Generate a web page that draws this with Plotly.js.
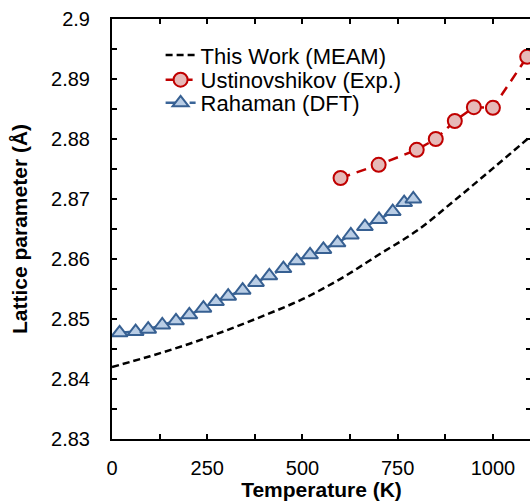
<!DOCTYPE html>
<html>
<head>
<meta charset="utf-8">
<script src="https://cdn.plot.ly/plotly-3.0.1.min.js"></script>
<style>
  html, body { margin: 0; padding: 0; overflow: hidden; background: #fff; }
  #chart { width: 532px; height: 501px; }
</style>
</head>
<body>
<div id="chart"></div>
<script>
// This Work (MEAM)
const meamT = [0, 100, 200, 300, 400, 500, 600, 700, 800, 900, 1000, 1100];
const meamA = [2.8420, 2.8438, 2.8458, 2.8481, 2.8506, 2.8533, 2.8567, 2.8607, 2.8647, 2.8698, 2.8751, 2.8805];

// Ustinovshikov (Exp.)
const expT = [600, 700, 800, 850, 900, 950, 1000, 1090];
const expA = [2.8735, 2.8757, 2.8782, 2.8800, 2.8830, 2.8853, 2.8852, 2.8937];

// Rahaman (DFT)
const dftT = [20, 62, 95, 132, 168, 203, 240, 273, 305, 343, 378, 413, 450, 485, 520, 555, 592, 627, 664, 701, 737, 767, 791];
const dftA = [2.8477, 2.8479, 2.8483, 2.8490, 2.8497, 2.8507, 2.8518, 2.8529, 2.8538, 2.8548, 2.8561, 2.8572,
              2.8584, 2.8597, 2.8607, 2.8616, 2.8627, 2.8640, 2.8654, 2.8666, 2.8679, 2.8694, 2.8700];

const names = ['This Work (MEAM)', 'Ustinovshikov (Exp.)', 'Rahaman (DFT)'];
const xTitle = 'Temperature (K)';
const yTitle = 'Lattice parameter (Å)';

const FONT = 'Arial, "Liberation Sans", sans-serif';

const traces = [
  {
    x: meamT, y: meamA, name: names[0], type: 'scatter', mode: 'lines', legend: 'legend',
    line: { color: '#000000', width: 2.5, dash: '7px,4px', shape: 'spline' }
  },
  {
    x: expT, y: expA, name: names[1], type: 'scatter', mode: 'lines+markers', legend: 'legend2',
    line: { color: '#C00000', width: 2.5, dash: '10px,7px' },
    marker: { symbol: 'circle', size: 14, color: '#E6B9B8', line: { color: '#C00000', width: 2 } },
    cliponaxis: false
  },
  {
    x: dftT, y: dftA, name: names[2], type: 'scatter', mode: 'lines+markers', legend: 'legend3',
    line: { color: '#3A6598', width: 2.5, dash: '16px,8px' },
    marker: { symbol: 'triangle-up', size: 14, color: '#B9CDE5', line: { color: '#376092', width: 2 } }
  }
];

const axisCommon = {
  showgrid: false, zeroline: false,
  showline: true, linecolor: '#000', linewidth: 2,
  mirror: 'ticks', ticks: 'inside', ticklen: 5, tickwidth: 2, tickcolor: '#000',
  tickfont: { family: FONT, size: 20, color: '#000' }
};

function legendAt(yPaper) {
  return {
    x: 0.116, y: yPaper, xanchor: 'left', yanchor: 'middle',
    bgcolor: 'rgba(255,255,255,0)', borderwidth: 0,
    font: { family: FONT, size: 22, color: '#000' }
  };
}

const layout = {
  width: 532, height: 501,
  margin: { l: 112, r: 1, t: 19, b: 62 },
  paper_bgcolor: '#fff', plot_bgcolor: '#fff',
  font: { family: FONT, size: 20, color: '#000' },
  showlegend: true,
  legend: legendAt(0.914),
  legend2: legendAt(0.855),
  legend3: legendAt(0.800),
  xaxis: Object.assign({}, axisCommon, {
    range: [0, 1100], dtick: 250, tick0: 0,
    minor: { dtick: 125, ticks: 'inside', ticklen: 5, tickwidth: 2, tickcolor: '#000' },
    ticklabelstandoff: 10,
    title: { text: xTitle, font: { family: FONT, size: 21, color: '#000', weight: 'bold' }, standoff: 19 },
    automargin: false
  }),
  yaxis: Object.assign({}, axisCommon, {
    range: [2.83, 2.9], dtick: 0.01, tick0: 2.83,
    minor: { dtick: 0.005, ticks: 'inside', ticklen: 5, tickwidth: 2, tickcolor: '#000' },
    ticklabelstandoff: 16,
    title: { text: yTitle, font: { family: FONT, size: 21, color: '#000', weight: 'bold' }, standoff: 18 },
    automargin: false
  })
};

Plotly.newPlot('chart', traces, layout, { staticPlot: true, displayModeBar: false });
</script>
</body>
</html>
